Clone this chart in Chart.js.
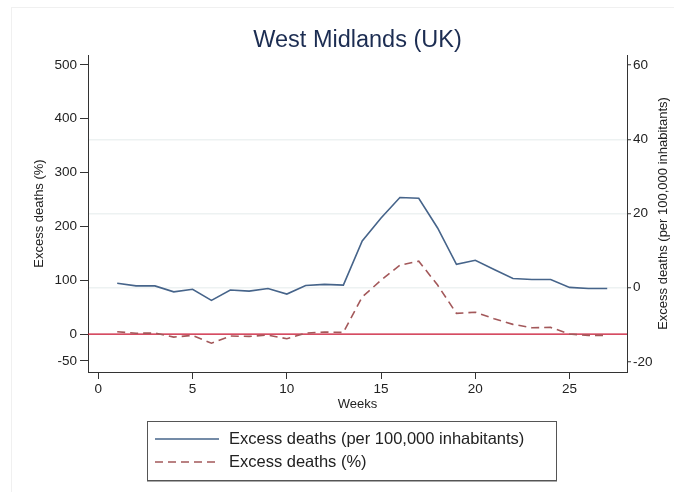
<!DOCTYPE html>
<html lang="en">
<head>
    <meta charset="UTF-8">
    <title>West Midlands (UK)</title>
    <style>
        body { margin: 0; background: #fff; font-family: "Liberation Sans", Arial, Helvetica, sans-serif; }
        #wrap { position: relative; width: 674px; height: 492px; overflow: hidden; }
        #frame { position: absolute; left: 11px; top: 7px; width: 700px; height: 500px;
                 border-left: 1px solid #f0f0f0; border-top: 1px solid #f0f0f0; }
        #grafico { position: absolute; left: 0; top: 0; }
        .legenda { position: absolute; left: 147px; top: 421px; width: 408px; height: 53px;
                   border: 1px solid #555; box-shadow: 0 1px 0 #aaa; padding-top: 5px; box-sizing: content-box; }
        .legenda .item { height: 23px; display: flex; align-items: center; font-size: 16.5px; color: #222; }
        .legenda svg { margin-left: 7px; margin-right: 10px; }
    </style>
</head>
<body>
<div id="wrap">
    <div id="frame"></div>
    <canvas id="grafico" width="674" height="492"></canvas>

    <!-- legenda -->
    <div class="legenda">
        <div class="item">
            <svg width="64" height="4"><line x1="0" y1="2" x2="64" y2="2" stroke="#46648a" stroke-width="1.5"/></svg>
            <span>Excess deaths (per 100,000 inhabitants)</span>
        </div>
        <div class="item">
            <svg width="64" height="4"><line x1="0" y1="2" x2="64" y2="2" stroke="#a3585a" stroke-width="1.5" stroke-dasharray="8,5"/></svg>
            <span>Excess deaths (%)</span>
        </div>
    </div>
</div>

<script src="https://cdn.jsdelivr.net/npm/chart.js"></script>
<script>
    // dados
    const semanas = [1, 2, 3, 4, 5, 6, 7, 8, 9, 10, 11, 12, 13, 14, 15, 16, 17, 18, 19, 20, 21, 22, 23, 24, 25, 26, 27];
    const porHabitantes = [1.2, 0.5, 0.5, -1.1, -0.4, -3.4, -0.6, -0.9, -0.2, -1.7, 0.6, 0.9, 0.7, 12.6, 18.8, 24.3, 24.1, 16.1, 6.3, 7.4, 4.9, 2.5, 2.2, 2.2, 0.1, -0.2, -0.2];
    const porcentagem = [4.3, 1.5, 1.9, -5.6, -2.5, -17, -3.7, -4.3, -1.9, -8.7, 1.9, 3.7, 3.1, 69, 100, 128, 135.5, 91, 38.5, 40.5, 28.5, 18, 11.8, 12.4, 0, -2.5, -2.5];

    const ticksX = [0, 5, 10, 15, 20, 25];
    const ticksEsq = [-50, 0, 100, 200, 300, 400, 500];
    const ticksDir = [-20, 0, 20, 40, 60];
    const gradeDir = [0, 20, 40];
    const linhaZero = 0;
    const tituloDireita = 'Excess deaths (per 100,000 inhabitants)';

    const fonte = '"Liberation Sans", Arial, Helvetica, sans-serif';

    // linha vermelha no zero (eixo da esquerda)
    const pluginZero = {
        id: 'linhaZero',
        beforeDatasetsDraw(chart) {
            const { ctx, chartArea, scales } = chart;
            const y = scales.y.getPixelForValue(linhaZero);
            ctx.save();
            ctx.strokeStyle = '#c8102e';
            ctx.lineWidth = 1.3;
            ctx.beginPath();
            ctx.moveTo(chartArea.left, y);
            ctx.lineTo(chartArea.right, y);
            ctx.stroke();
            ctx.restore();
        }
    };

    // titulo do eixo direito, lido de baixo para cima (como no Stata)
    const pluginTituloDir = {
        id: 'tituloDir',
        afterDraw(chart) {
            const { ctx, chartArea, scales } = chart;
            const x = scales.y1.right - 11;
            const y = (chartArea.top + chartArea.bottom) / 2;
            ctx.save();
            ctx.translate(x, y);
            ctx.rotate(-Math.PI / 2);
            ctx.font = '13px ' + fonte;
            ctx.fillStyle = '#222';
            ctx.textAlign = 'center';
            ctx.textBaseline = 'middle';
            ctx.fillText(tituloDireita, 0, 0);
            ctx.restore();
        }
    };

    const ctx = document.getElementById('grafico').getContext('2d');

    const grafico = new Chart(ctx, {
        type: 'line',
        data: {
            datasets: [
                {
                    label: 'Excess deaths (per 100,000 inhabitants)',
                    data: semanas.map((s, i) => ({ x: s, y: porHabitantes[i] })),
                    yAxisID: 'y1',
                    borderColor: '#46648a',
                    borderWidth: 1.6,
                    pointRadius: 0,
                    tension: 0
                },
                {
                    label: 'Excess deaths (%)',
                    data: semanas.map((s, i) => ({ x: s, y: porcentagem[i] })),
                    yAxisID: 'y',
                    borderColor: '#a3585a',
                    borderWidth: 1.6,
                    borderDash: [8, 5],
                    pointRadius: 0,
                    tension: 0
                }
            ]
        },
        options: {
            responsive: false,
            animation: false,
            layout: { padding: { left: 0, right: 0, top: 0, bottom: 70 } },
            plugins: {
                legend: { display: false },
                tooltip: { enabled: false },
                title: {
                    display: true,
                    fullSize: false,
                    text: 'West Midlands (UK)',
                    color: '#1c2d52',
                    font: { family: fonte, size: 23.5, weight: 'normal' },
                    padding: { top: 26, bottom: 0.8 }
                }
            },
            scales: {
                x: {
                    type: 'linear',
                    min: -0.55,
                    max: 28.05,
                    afterFit: s => { s.height = 50; },
                    afterBuildTicks: s => { s.ticks = ticksX.map(v => ({ value: v })); },
                    border: { display: true, color: '#333', width: 1 },
                    grid: { drawOnChartArea: false, tickLength: 7, tickColor: '#333' },
                    ticks: { color: '#222', padding: 2, maxRotation: 0, font: { family: fonte, size: 13.5 } },
                    title: { display: true, text: 'Weeks', color: '#222', font: { family: fonte, size: 13 }, padding: { top: 0, bottom: 10 } }
                },
                y: {
                    position: 'left',
                    min: -70.5,
                    max: 518.5,
                    afterFit: s => { s.width = 88; },
                    afterBuildTicks: s => { s.ticks = ticksEsq.map(v => ({ value: v })); },
                    border: { display: true, color: '#333', width: 1 },
                    grid: { drawOnChartArea: false, tickLength: 8, tickColor: '#333' },
                    ticks: { color: '#222', padding: 3, font: { family: fonte, size: 13.5 } },
                    title: { display: true, text: 'Excess deaths (%)', color: '#222', font: { family: fonte, size: 13 }, padding: { top: 32, bottom: 0 } }
                },
                y1: {
                    position: 'right',
                    min: -22.7,
                    max: 62.7,
                    afterFit: s => { s.width = 47; },
                    afterBuildTicks: s => { s.ticks = ticksDir.map(v => ({ value: v })); },
                    border: { display: true, color: '#333', width: 1 },
                    grid: {
                        drawOnChartArea: true,
                        color: c => (c.tick && gradeDir.includes(c.tick.value)) ? '#edf2f2' : 'rgba(0,0,0,0)',
                        lineWidth: 1.5,
                        tickLength: 4,
                        tickWidth: 1,
                        tickColor: '#333'
                    },
                    ticks: { color: '#222', padding: 2, font: { family: fonte, size: 13.5 } },
                    title: { display: false }
                }
            }
        },
        plugins: [pluginZero, pluginTituloDir]
    });
</script>
</body>
</html>
